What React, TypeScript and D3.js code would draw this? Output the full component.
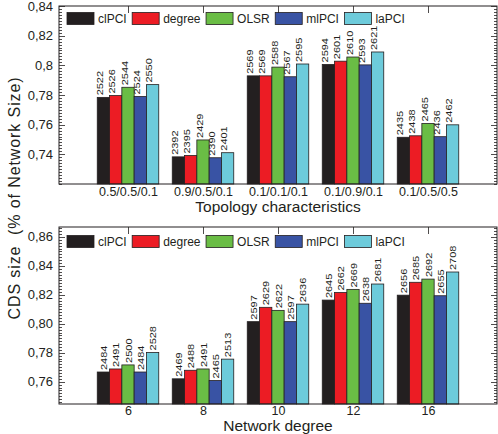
import React, { useRef, useEffect } from 'react';
import * as d3 from 'd3';

const seriesNames = ['clPCI', 'degree', 'OLSR', 'mlPCI', 'laPCI'];
const seriesColors = ['#231f20', '#ec1c24', '#6abd45', '#3953a4', '#6dcbdb'];

// top panel: topology characteristics
const topologyCats = ['0.5/0.5/0.1', '0.9/0.5/0.1', '0.1/0.1/0.1', '0.1/0.9/0.1', '0.1/0.5/0.5'];
const topologyValues = [
  [0.7784, 0.7796, 0.7852, 0.7790, 0.7870],
  [0.7383, 0.7392, 0.7497, 0.7377, 0.7411],
  [0.7929, 0.7929, 0.7988, 0.7923, 0.8009],
  [0.8006, 0.8028, 0.8056, 0.8003, 0.8090],
  [0.7515, 0.7525, 0.7608, 0.7519, 0.7599],
];
const topologyCounts = [
  [2522, 2526, 2544, 2524, 2550],
  [2392, 2395, 2429, 2390, 2401],
  [2569, 2569, 2588, 2567, 2595],
  [2594, 2601, 2610, 2593, 2621],
  [2435, 2438, 2465, 2436, 2462],
];
const topologyTicks = [0.74, 0.76, 0.78, 0.8, 0.82, 0.84];

// bottom panel: network degree
const degreeCats = ['6', '8', '10', '12', '16'];
const degreeValues = [
  [0.7667, 0.7688, 0.7716, 0.7667, 0.7802],
  [0.7620, 0.7679, 0.7688, 0.7608, 0.7756],
  [0.8015, 0.8114, 0.8093, 0.8015, 0.8136],
  [0.8164, 0.8216, 0.8238, 0.8142, 0.8275],
  [0.8198, 0.8287, 0.8309, 0.8194, 0.8358],
];
const degreeCounts = [
  [2484, 2491, 2500, 2484, 2528],
  [2469, 2488, 2491, 2465, 2513],
  [2597, 2629, 2622, 2597, 2636],
  [2645, 2662, 2669, 2638, 2681],
  [2656, 2685, 2692, 2655, 2708],
];
const degreeTicks = [0.76, 0.78, 0.8, 0.82, 0.84, 0.86];

const W = 498, H = 434;
const L = 59, R = 497;
const INK = '#231f20';
const FONT = '"Liberation Sans", Arial, Helvetica, sans-serif';

type Panel = {
  top: number; bottom: number; domain: [number, number];
  ticks: number[]; fmt: (v: number) => string;
  cats: string[]; values: number[][]; counts: number[][];
  title: string; tickY: number; titleY: number; legendY: number; labelDx: number;
};

function drawPanel(svg: d3.Selection<SVGSVGElement, unknown, null, undefined>, p: Panel) {
  const g = svg.append('g');
  const x = d3.scaleBand().domain(p.cats).range([L, R]).paddingInner(0).paddingOuter(0.42);
  const bw = x.bandwidth();
  const gw = bw * 0.82;
  const xs = d3.scaleBand().domain(seriesNames).range([(bw - gw) / 2, (bw + gw) / 2]).padding(0);
  const y = d3.scaleLinear().domain(p.domain).range([p.bottom, p.top]);

  // bars + rotated count labels
  p.cats.forEach((c, ci) => {
    seriesNames.forEach((s, si) => {
      const v = p.values[ci][si];
      const bx = x(c)! + xs(s)!;
      g.append('rect')
        .attr('x', bx).attr('y', y(v))
        .attr('width', xs.bandwidth()).attr('height', p.bottom - y(v))
        .attr('fill', seriesColors[si])
        .attr('stroke', INK).attr('stroke-width', 0.8);
      const cx = bx + xs.bandwidth() / 2;
      g.append('text')
        .attr('transform', `translate(${cx + p.labelDx},${y(v) - 2}) rotate(-90) scale(1,0.85)`)
        .attr('font-size', 11).attr('fill', INK)
        .text(p.counts[ci][si]);
    });
  });

  // frame
  g.append('rect').attr('x', L).attr('y', p.top).attr('width', R - L).attr('height', p.bottom - p.top)
    .attr('fill', 'none').attr('stroke', INK).attr('stroke-width', 1);

  // minor + major y ticks, both sides, pointing inward
  const [d0, d1] = p.domain;
  const minors = d3.range(Math.ceil(d0 / 0.002 - 1e-6), Math.floor(d1 / 0.002 + 1e-6) + 1).map(k => k * 0.002);
  minors.forEach(m => {
    const isMajor = p.ticks.some(t => Math.abs(t - m) < 1e-6);
    const len = isMajor ? 6 : 3;
    const yy = Math.round(y(m)) + 0.5;
    g.append('line').attr('x1', L).attr('x2', L + len).attr('y1', yy).attr('y2', yy)
      .attr('stroke', INK).attr('stroke-width', 0.8);
    g.append('line').attr('x1', R).attr('x2', R - len).attr('y1', yy).attr('y2', yy)
      .attr('stroke', INK).attr('stroke-width', 0.8);
  });
  p.ticks.forEach(t => {
    g.append('text').attr('x', L - 6).attr('y', y(t) + 4.5)
      .attr('text-anchor', 'end').attr('font-size', 13).attr('fill', INK)
      .text(p.fmt(t));
  });

  // x ticks (top, pointing down) and labels
  p.cats.forEach(c => {
    const cx = Math.round(x(c)! + bw / 2) + 0.5;
    g.append('line').attr('x1', cx).attr('x2', cx).attr('y1', p.top).attr('y2', p.top + 7)
      .attr('stroke', INK).attr('stroke-width', 0.8);
    g.append('text').attr('x', cx).attr('y', p.tickY)
      .attr('text-anchor', 'middle').attr('font-size', 12.5).attr('fill', INK)
      .text(c);
  });

  g.append('text').attr('x', (L + R) / 2).attr('y', p.titleY)
    .attr('text-anchor', 'middle').attr('font-size', 15.5).attr('fill', INK)
    .text(p.title);

  // legend
  let lx = 67;
  seriesNames.forEach((s, si) => {
    g.append('rect').attr('x', lx).attr('y', p.legendY).attr('width', 27).attr('height', 12)
      .attr('fill', seriesColors[si]).attr('stroke', INK).attr('stroke-width', 0.8);
    const t = g.append('text').attr('x', lx + 31).attr('y', p.legendY + 10.5)
      .attr('font-size', 12).attr('fill', INK).text(s);
    const tw = (t.node() as SVGTextElement).getComputedTextLength();
    lx += 31 + tw + 5.5;
  });
}

const App = () => {
  const svgRef = useRef<SVGSVGElement>(null);

  useEffect(() => {
    document.body.style.margin = '0';
    const svg = d3.select(svgRef.current!);
    svg.selectAll('*').remove();
    svg.attr('width', W).attr('height', H).style('background', '#fff')
      .style('font-family', FONT);

    drawPanel(svg, {
      top: 6, bottom: 184, domain: [0.72, 0.84], ticks: topologyTicks,
      fmt: v => String(+v.toFixed(2)).replace('.', ','),
      cats: topologyCats, values: topologyValues, counts: topologyCounts,
      title: 'Topology characteristics', tickY: 196, titleY: 212, legendY: 12.5, labelDx: -0.5,
    });
    drawPanel(svg, {
      top: 227, bottom: 404, domain: [0.7446, 0.8669], ticks: degreeTicks,
      fmt: v => v.toFixed(2).replace('.', ','),
      cats: degreeCats, values: degreeValues, counts: degreeCounts,
      title: 'Network degree', tickY: 415, titleY: 431, legendY: 235.5, labelDx: 3.5,
    });

    svg.append('text')
      .attr('transform', 'translate(20,198) rotate(-90)')
      .attr('text-anchor', 'middle').attr('font-size', 16).attr('fill', INK)
      .attr('letter-spacing', 0.9)
      .style('white-space', 'pre')
      .text('CDS size  (% of Network Size)');
  }, []);

  return <svg ref={svgRef} style={{ display: 'block' }}></svg>;
};

export default App;
